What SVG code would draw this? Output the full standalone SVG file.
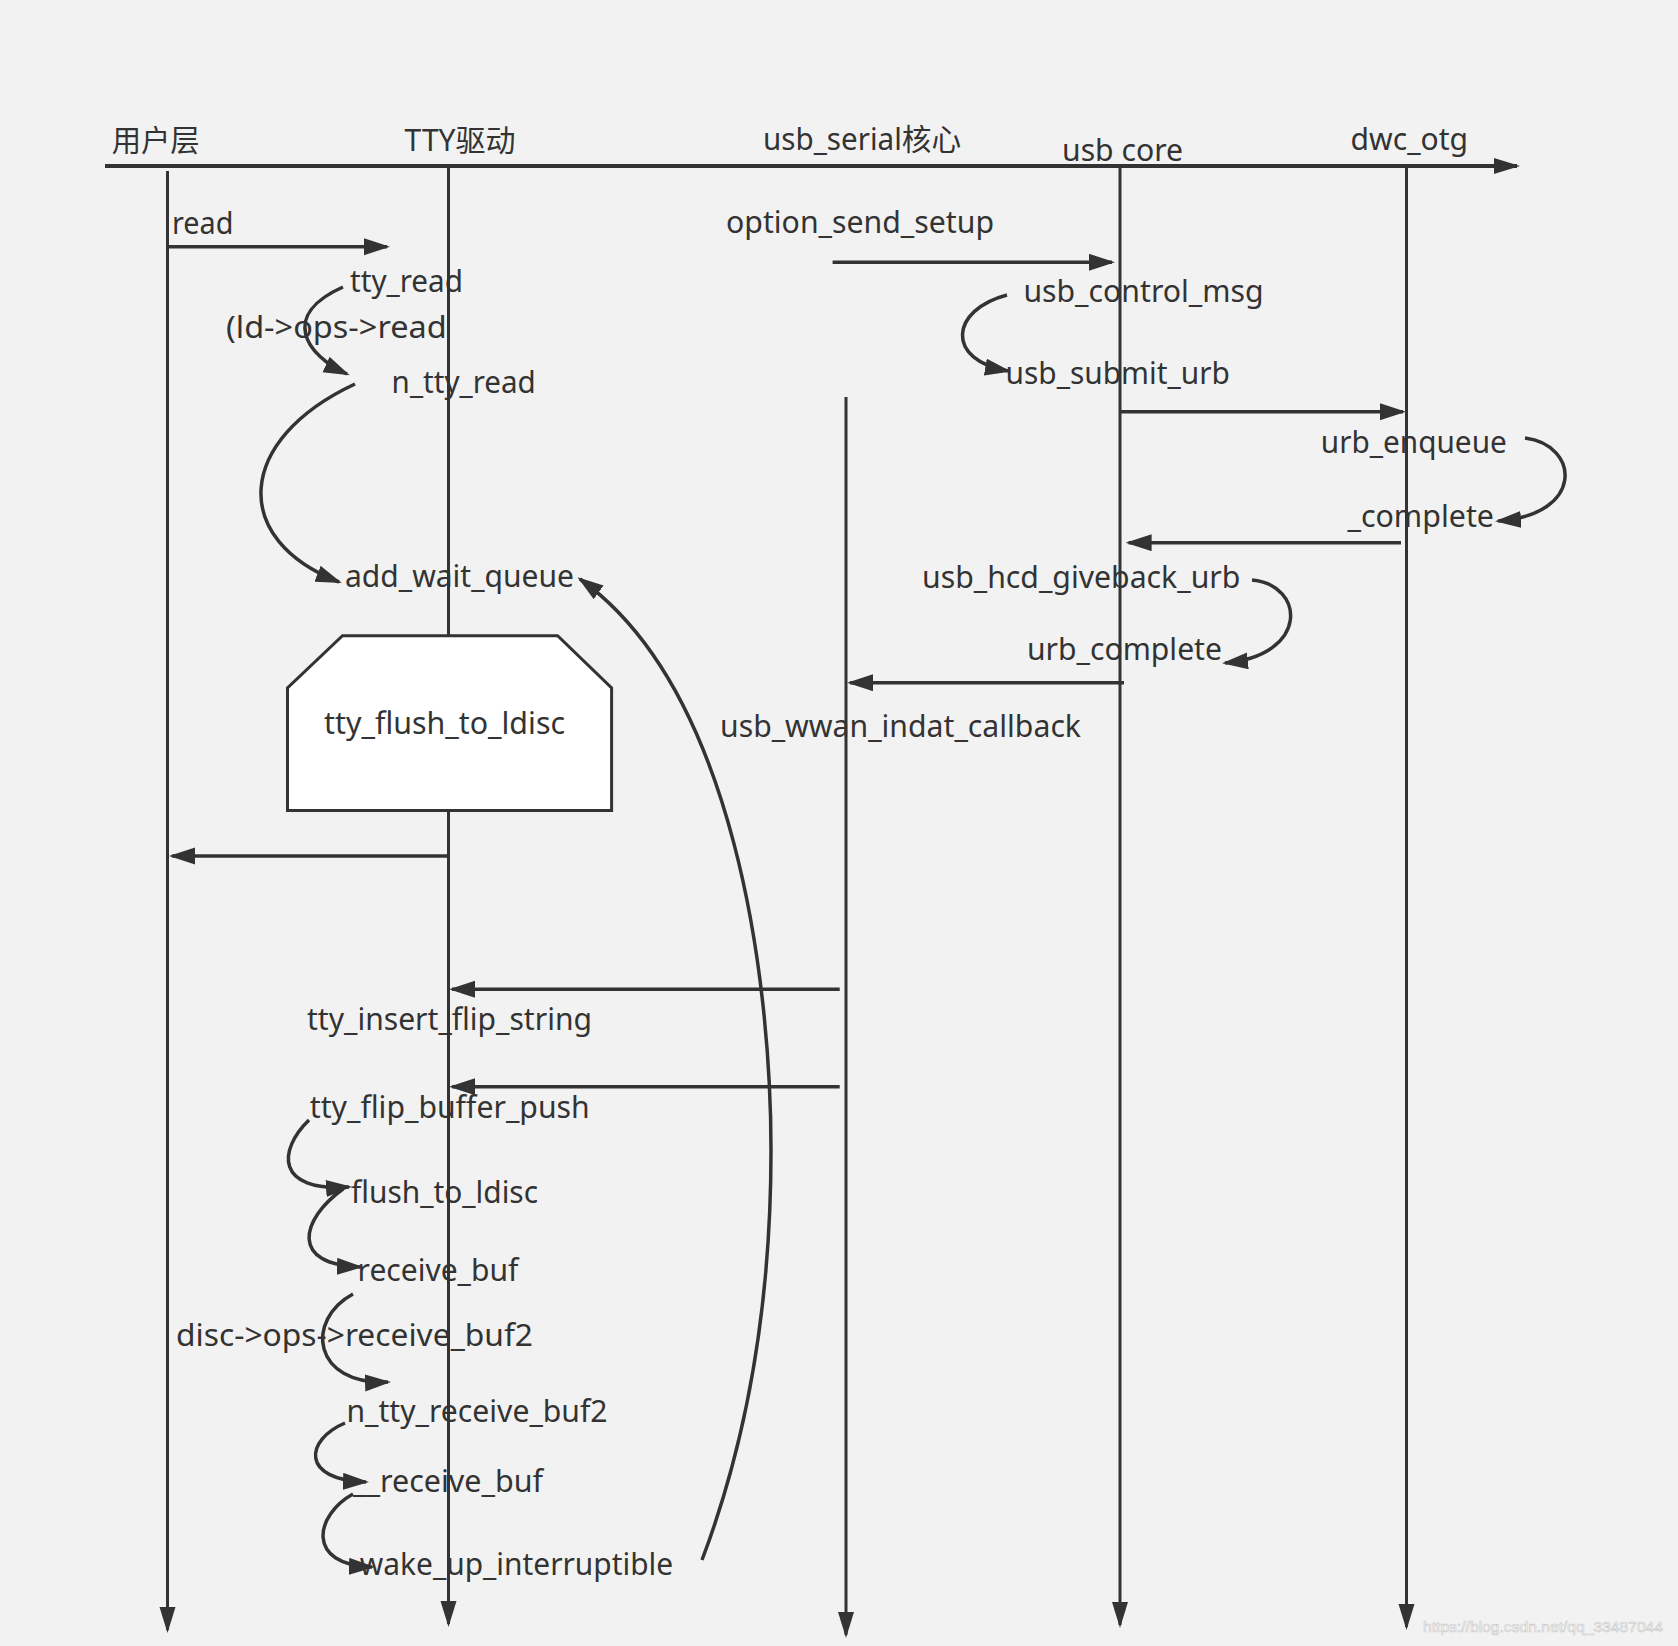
<svg xmlns="http://www.w3.org/2000/svg" width="1678" height="1646" viewBox="0 0 1678 1646">
<style>
.t{font-family:"Noto Sans","Noto Sans CJK SC",sans-serif;font-size:31px;fill:#333333}
.c{font-family:"Noto Sans","Noto Sans CJK SC",sans-serif;font-size:30px;fill:#333333}
.ln{fill:none;stroke:#333333;stroke-width:3}
.ar{fill:none;stroke:#333333;stroke-width:3.5;marker-end:url(#ah)}
.lf{fill:none;stroke:#333333;stroke-width:3;marker-end:url(#ahv)}
</style>
<defs>
<marker id="ah" markerUnits="userSpaceOnUse" markerWidth="27" markerHeight="18" refX="23" refY="8.5" orient="auto"><path d="M0,0 L26,8.5 L0,17 z" fill="#333333"/></marker>
<marker id="ahv" markerUnits="userSpaceOnUse" markerWidth="27" markerHeight="17" refX="23" refY="8" orient="auto"><path d="M0,0 L26,8 L0,16 z" fill="#333333"/></marker>
</defs>
<rect x="0" y="0" width="1678" height="1646" fill="#f2f2f2"/>

<g id="lifelines">
<path class="lf" d="M105,166 H1517" style="stroke-width:4"/>
<path class="lf" d="M167.5,171 V1630"/>
<path class="lf" d="M448.5,166 V1624"/>
<path class="lf" d="M846,397 V1635"/>
<path class="lf" d="M1120,166 V1625"/>
<path class="lf" d="M1406.5,166 V1627"/>
</g>

<g id="headers">
<text id="h-user" class="c" x="111.7" y="151" textLength="88" lengthAdjust="spacingAndGlyphs">用户层</text>
<text id="h-tty" class="c" x="404.6" y="151" textLength="111" lengthAdjust="spacingAndGlyphs">TTY驱动</text>
<text id="h-serial" class="c" x="763" y="150" textLength="198" lengthAdjust="spacingAndGlyphs">usb_serial核心</text>
<text id="h-core" class="c" x="1062" y="161" textLength="121" lengthAdjust="spacingAndGlyphs">usb core</text>
<text id="h-dwc" class="c" x="1350.6" y="150" textLength="117.4" lengthAdjust="spacingAndGlyphs">dwc_otg</text>
</g>

<g id="node-flush-box">
<path d="M342.5,635.7 H557.6 L611.6,688 V810.5 H287.5 V688 Z" fill="#ffffff" stroke="#333333" stroke-width="3"/>
<text class="t" x="324" y="734" textLength="241" lengthAdjust="spacingAndGlyphs">tty_flush_to_ldisc</text>
</g>

<g id="connectors">
<path class="ar" d="M167.5,246.7 H387"/>
<path class="ar" d="M832.6,262.3 H1112"/>
<path class="ar" d="M1120,411.7 H1403"/>
<path class="ar" d="M1401,542.7 H1128.6"/>
<path class="ar" d="M1124,682.7 H850"/>
<path class="ar" d="M448.5,856 H172"/>
<path class="ar" d="M839.7,989.3 H452"/>
<path class="ar" d="M839.7,1086.7 H452"/>
<path class="ar" d="M343,287 C280,315 305,355 347,374"/>
<path class="ar" d="M355,384 C235,440 230,540 339,582"/>
<path class="ar" d="M1007,295 C950,310 945,360 1008,371"/>
<path class="ar" d="M1525,438 C1580,445 1585,515 1498,521"/>
<path class="ar" d="M1252,580 C1305,585 1310,655 1225,663"/>
<path class="ar" d="M309,1120 C278,1150 275,1192 349,1187"/>
<path class="ar" d="M343,1189 C300,1220 290,1265 360,1267"/>
<path class="ar" d="M353,1294 C305,1320 312,1385 388,1382"/>
<path class="ar" d="M345,1423 C305,1440 300,1480 366,1482"/>
<path class="ar" d="M353,1494 C315,1515 305,1565 372,1567"/>
<path class="ar" d="M702,1560 C755,1420 771,1280 771,1150 C771,980 735,690 580,579"/>
</g>

<g id="labels">
<g id="n-read"><text class="t" x="172" y="234" textLength="61.5" lengthAdjust="spacingAndGlyphs">read</text></g>
<g id="n-tty-read"><text class="t" x="350" y="291.5" textLength="113" lengthAdjust="spacingAndGlyphs">tty_read</text></g>
<g id="n-ldops"><text class="t" x="226" y="338" textLength="220.7" lengthAdjust="spacingAndGlyphs">(ld-&gt;ops-&gt;read</text></g>
<g id="n-ntty-read"><text class="t" x="391.6" y="392.7" textLength="144.2" lengthAdjust="spacingAndGlyphs">n_tty_read</text></g>
<g id="n-add-wait"><text class="t" x="345" y="587" textLength="229" lengthAdjust="spacingAndGlyphs">add_wait_queue</text></g>
<g id="n-option"><text class="t" x="726" y="233" textLength="268" lengthAdjust="spacingAndGlyphs">option_send_setup</text></g>
<g id="n-ctrl"><text class="t" x="1023.4" y="301.7" textLength="240.2" lengthAdjust="spacingAndGlyphs">usb_control_msg</text></g>
<g id="n-submit"><text class="t" x="1005.5" y="384" textLength="224.5" lengthAdjust="spacingAndGlyphs">usb_submit_urb</text></g>
<g id="n-enqueue"><text class="t" x="1320.8" y="452.7" textLength="186" lengthAdjust="spacingAndGlyphs">urb_enqueue</text></g>
<g id="n-complete"><text class="t" x="1347.4" y="527.3" textLength="146.6" lengthAdjust="spacingAndGlyphs">_complete</text></g>
<g id="n-giveback"><text class="t" x="922" y="588.3" textLength="318.4" lengthAdjust="spacingAndGlyphs">usb_hcd_giveback_urb</text></g>
<g id="n-urb-complete"><text class="t" x="1027" y="660" textLength="195" lengthAdjust="spacingAndGlyphs">urb_complete</text></g>
<g id="n-indat"><text class="t" x="720" y="737" textLength="361" lengthAdjust="spacingAndGlyphs">usb_wwan_indat_callback</text></g>
<g id="n-insert"><text class="t" x="307" y="1030" textLength="285" lengthAdjust="spacingAndGlyphs">tty_insert_flip_string</text></g>
<g id="n-push"><text class="t" x="309.8" y="1118.3" textLength="279.9" lengthAdjust="spacingAndGlyphs">tty_flip_buffer_push</text></g>
<g id="n-flush"><text class="t" x="351" y="1202.7" textLength="187" lengthAdjust="spacingAndGlyphs">flush_to_ldisc</text></g>
<g id="n-recv"><text class="t" x="357.6" y="1280.7" textLength="160.7" lengthAdjust="spacingAndGlyphs">receive_buf</text></g>
<g id="n-discops"><text class="t" x="176" y="1346" textLength="357" lengthAdjust="spacingAndGlyphs">disc-&gt;ops-&gt;receive_buf2</text></g>
<g id="n-ntty-recv2"><text class="t" x="346.4" y="1421.7" textLength="261.2" lengthAdjust="spacingAndGlyphs">n_tty_receive_buf2</text></g>
<g id="n-__recv"><text class="t" x="353" y="1491.7" textLength="190" lengthAdjust="spacingAndGlyphs">__receive_buf</text></g>
<g id="n-wake"><text class="t" x="359.8" y="1575" textLength="313.4" lengthAdjust="spacingAndGlyphs">wake_up_interruptible</text></g>
</g>

<g id="watermark">
<text x="1423" y="1632" textLength="240" lengthAdjust="spacingAndGlyphs" style="font-family:'Liberation Sans',sans-serif;font-size:14.5px;fill:#ffffff;stroke:#c8c8c8;stroke-width:0.6">https://blog.csdn.net/qq_33487044</text>
</g>
</svg>
